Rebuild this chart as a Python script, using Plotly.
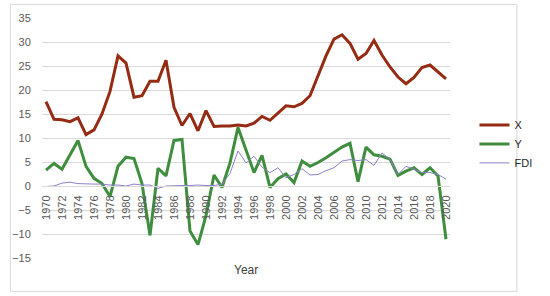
import plotly.graph_objects as go

years = list(range(1970, 2021))

x_vals = [17.6, 13.9, 13.8, 13.4, 14.2, 10.7, 11.7, 15.0, 19.7, 27.1,
          25.6, 18.5, 18.8, 21.8, 21.8, 26.2, 16.4, 12.6, 15.1, 11.5,
          15.7, 12.4, 12.5, 12.5, 12.7, 12.5, 13.1, 14.5, 13.7, 15.3,
          16.7, 16.5, 17.2, 18.8, 23.0, 27.1, 30.6, 31.5, 29.7, 26.4,
          27.6, 30.3, 27.3, 24.8, 22.7, 21.3, 22.6, 24.7, 25.2, 23.8,
          22.3]

y_vals = [3.3, 4.7, 3.5, 6.4, 9.5, 4.1, 1.6, 0.5, -2.2, 4.1,
          6.0, 5.7, 0.5, -10.3, 3.7, 2.1, 9.5, 9.7, -9.4, -12.2,
          -6.2, 2.3, -0.3, 4.8, 12.2, 7.5, 2.8, 6.4, -0.3, 1.5,
          2.5, 0.7, 5.2, 4.1, 4.9, 5.9, 7.0, 8.1, 8.9, 0.9,
          8.1, 6.5, 6.2, 5.6, 2.2, 3.1, 3.8, 2.4, 3.8, 2.1,
          -11.1]

fdi_vals = [-0.1, 0.0, 0.6, 0.8, 0.5, 0.4, 0.4, 0.4, 0.2, 0.2,
            0.0, 0.4, 0.2, 0.2, -0.5, 0.0, 0.1, 0.1, 0.1, 0.2,
            0.1, 0.1, 0.4, 2.6, 7.3, 4.8, 6.2, 3.9, 2.8, 3.8,
            1.7, 2.4, 3.6, 2.3, 2.4, 3.2, 3.8, 5.2, 5.5, 5.3,
            5.5, 4.3, 6.9, 5.5, 2.4, 4.1, 3.5, 2.8, 2.8, 2.4,
            1.4]

y_ticks = list(range(-15, 40, 5))
x_tick_years = list(range(1970, 2021, 2))

FONT = "Liberation Sans"

fig = go.Figure()
fig.add_trace(go.Scatter(x=years, y=x_vals, name="X", mode="lines",
                         line=dict(color="#952B12", width=3)))
fig.add_trace(go.Scatter(x=years, y=y_vals, name="Y", mode="lines",
                         line=dict(color="#3E8E3E", width=3)))
fig.add_trace(go.Scatter(x=years, y=fdi_vals, name="FDI", mode="lines",
                         line=dict(color="#8F80C8", width=1)))

zero_pos = (0 - (-15)) / (35 - (-15))

fig.update_layout(
    width=550, height=296,
    margin=dict(l=37, r=78, t=16, b=38),
    paper_bgcolor="white", plot_bgcolor="white",
    font=dict(family=FONT, size=11, color="#595959"),
    showlegend=True,
    legend=dict(x=1.06, y=0.615, xanchor="left", yanchor="top",
                font=dict(family=FONT, size=11, color="#262626"),
                itemwidth=30, tracegroupgap=0, bgcolor="rgba(0,0,0,0)"),
    xaxis=dict(range=[1969.5, 2020.5], tickmode="array",
               tickvals=x_tick_years, ticktext=[str(v) for v in x_tick_years],
               tickangle=-90, showgrid=False, zeroline=False,
               showline=True, linecolor="#D9D9D9", linewidth=1,
               anchor="free", position=zero_pos,
               tickfont=dict(family=FONT, size=11, color="#595959"),
               ticks="outside", ticklen=4, tickcolor="rgba(0,0,0,0)",
               fixedrange=True),
    yaxis=dict(range=[-15, 35], tickmode="array", tickvals=y_ticks,
               showgrid=True, gridcolor="#D9D9D9", gridwidth=1,
               zeroline=False, showline=False,
               ticks="outside", ticklen=8, tickcolor="rgba(0,0,0,0)",
               tickfont=dict(family=FONT, size=11, color="#595959"),
               fixedrange=True),
    annotations=[dict(text="Year", xref="paper", yref="paper",
                      x=0.5, y=-0.012, xanchor="center", yanchor="top",
                      showarrow=False,
                      font=dict(family=FONT, size=12, color="#404040"))],
    shapes=[dict(type="rect", xref="paper", yref="paper",
                 x0=-0.0775, x1=1.164, y0=-0.139, y1=1.0565,
                 line=dict(color="#D9D9D9", width=1), layer="below")],
)

fig.write_html("out.html")
